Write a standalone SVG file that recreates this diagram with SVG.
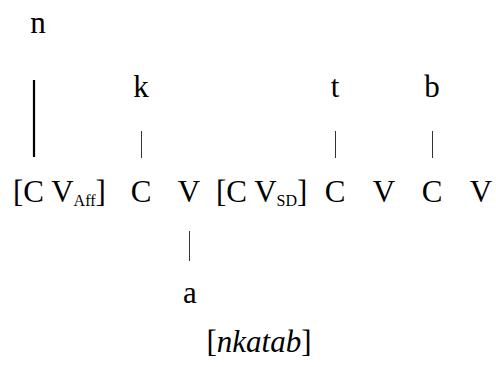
<svg xmlns="http://www.w3.org/2000/svg" width="496" height="367" viewBox="0 0 496 367">
<style>
text{font-family:'Liberation Serif','Times New Roman',serif;font-size:31px;fill:#000}
.m{text-anchor:middle}
.sub{font-size:16px}
.it{font-style:italic}
line{stroke:#333;stroke-width:1}
.thick{stroke:#000;stroke-width:2.2}
</style>
<rect width="496" height="367" fill="#fff"/>
<g id="connectors">
<line class="thick" x1="34" y1="80" x2="34" y2="157"/>
<line x1="141.5" y1="131" x2="141.5" y2="158"/>
<line x1="335.5" y1="131" x2="335.5" y2="158"/>
<line x1="432.5" y1="131" x2="432.5" y2="158"/>
<line x1="189.5" y1="231" x2="189.5" y2="261"/>
</g>
<g id="n"><text class="m" x="38" y="33">n</text></g>
<g id="k"><text class="m" x="141" y="97">k</text></g>
<g id="t"><text class="m" x="335" y="97">t</text></g>
<g id="b"><text class="m" x="432" y="97">b</text></g>
<g id="aff"><text x="13" y="202">[C V<tspan class="sub" dy="4">Aff</tspan><tspan dy="-4">]</tspan></text></g>
<g id="C1"><text class="m" x="141" y="202">C</text></g>
<g id="V1"><text class="m" x="189" y="202">V</text></g>
<g id="sd"><text x="216" y="202">[C V<tspan class="sub" dy="4">SD</tspan><tspan dy="-4">]</tspan></text></g>
<g id="C2"><text class="m" x="335" y="202">C</text></g>
<g id="V2"><text class="m" x="384" y="202">V</text></g>
<g id="C3"><text class="m" x="432" y="202">C</text></g>
<g id="V3"><text class="m" x="481" y="202">V</text></g>
<g id="a"><text class="m" x="190" y="303">a</text></g>
<g id="form"><text class="m" x="259" y="352">[<tspan class="it">nkatab</tspan>]</text></g>
</svg>
